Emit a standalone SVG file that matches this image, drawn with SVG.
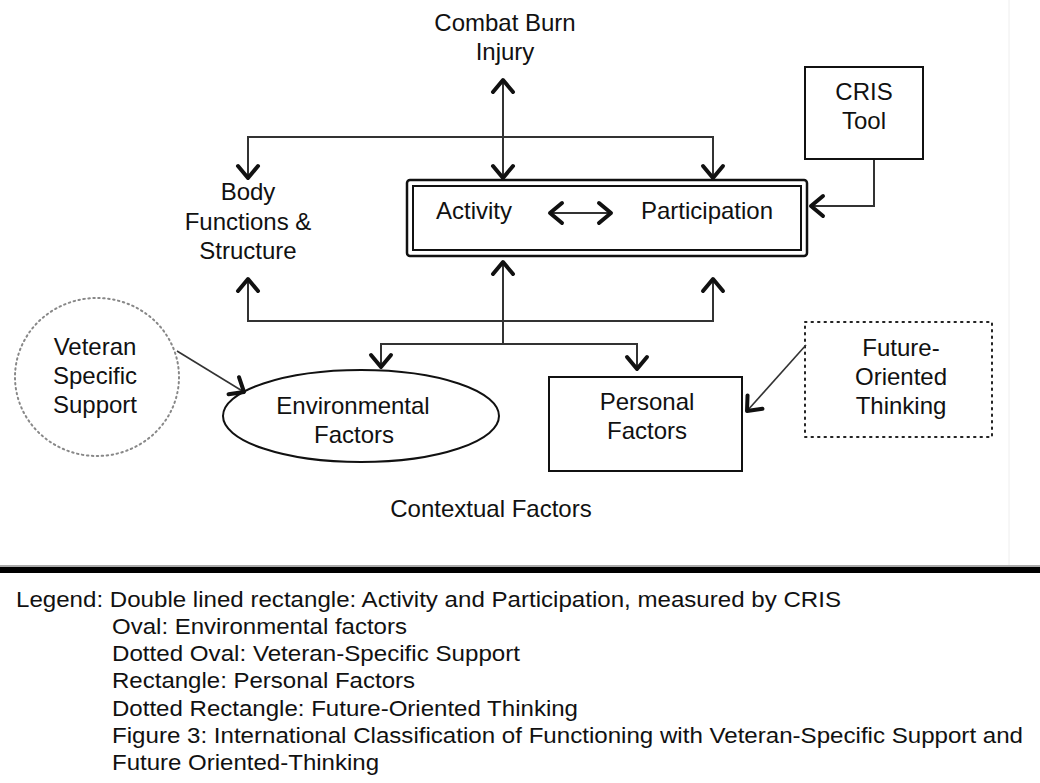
<svg xmlns="http://www.w3.org/2000/svg" width="1040" height="783" viewBox="0 0 1040 783">
<style>
.t{font-family:"Liberation Sans",Arial,sans-serif;font-size:24px;fill:#111;text-anchor:middle}
.lg{font-family:"Liberation Sans",Arial,sans-serif;font-size:22px;fill:#111}
.ln{fill:none;stroke:#333;stroke-width:2}
.thin{fill:none;stroke:#333;stroke-width:1.6}
.box{fill:#fff;stroke:#111;stroke-width:2}
</style>
<defs>
<marker id="ah" viewBox="-16 -14 20 28" refX="0" refY="0" markerWidth="20" markerHeight="28" markerUnits="userSpaceOnUse" orient="auto-start-reverse">
<path d="M-12,-10 L0,0 L-12,10" fill="none" stroke="#111" stroke-width="4" stroke-linejoin="round" stroke-linecap="round"/>
</marker>
</defs>
<rect width="1040" height="783" fill="#fff"/>
<line x1="1009" y1="0" x2="1009" y2="566" stroke="#eeeeee" stroke-width="1"/>

<g id="combat-burn-injury">
<text class="t" x="505" y="31">Combat Burn</text>
<text class="t" x="505" y="60">Injury</text>
</g>

<g id="cris-tool">
<rect class="box" x="805" y="67" width="118" height="92"/>
<text class="t" x="864" y="100">CRIS</text>
<text class="t" x="864" y="129">Tool</text>
</g>

<g id="body-functions">
<text class="t" x="248" y="200">Body</text>
<text class="t" x="248" y="230">Functions &amp;</text>
<text class="t" x="248" y="259">Structure</text>
</g>

<g id="activity-participation">
<rect x="407" y="180" width="400" height="76" rx="3" fill="#fff" stroke="#111" stroke-width="2.5"/>
<rect x="413" y="186" width="388" height="64" fill="none" stroke="#111" stroke-width="2"/>
<text class="t" x="474" y="219">Activity</text>
<text class="t" x="707" y="219">Participation</text>
<line class="ln" x1="550" y1="213" x2="611" y2="213" marker-start="url(#ah)" marker-end="url(#ah)"/>
</g>

<g id="veteran-specific-support">
<ellipse cx="97" cy="377" rx="82" ry="79" fill="#fff" stroke="#888" stroke-width="2" stroke-dasharray="1.5 3.5" stroke-linecap="round"/>
<text class="t" x="95" y="355">Veteran</text>
<text class="t" x="95" y="384">Specific</text>
<text class="t" x="95" y="413">Support</text>
</g>

<g id="environmental-factors">
<ellipse cx="361" cy="416" rx="138" ry="46" fill="#fff" stroke="#111" stroke-width="2"/>
<text class="t" x="353" y="414">Environmental</text>
<text class="t" x="354" y="443">Factors</text>
</g>

<g id="personal-factors">
<rect class="box" x="549" y="377" width="193" height="94"/>
<text class="t" x="647" y="410">Personal</text>
<text class="t" x="647" y="439">Factors</text>
</g>

<g id="future-oriented-thinking">
<rect x="805" y="322" width="187" height="115" fill="#fff" stroke="#222" stroke-width="2" stroke-dasharray="1.5 5" stroke-linecap="round"/>
<text class="t" x="901" y="356">Future-</text>
<text class="t" x="901" y="385">Oriented</text>
<text class="t" x="901" y="414">Thinking</text>
</g>

<g id="contextual-factors">
<text class="t" x="491" y="517">Contextual Factors</text>
</g>

<g id="connectors">
<line class="ln" x1="503" y1="80" x2="503" y2="178" marker-start="url(#ah)" marker-end="url(#ah)"/>
<polyline class="ln" points="248,178 248,137 713,137 713,178" marker-start="url(#ah)" marker-end="url(#ah)"/>
<polyline class="ln" points="248,279 248,321 713,321 713,279" marker-start="url(#ah)" marker-end="url(#ah)"/>
<line class="ln" x1="503" y1="344" x2="503" y2="262" marker-end="url(#ah)"/>
<polyline class="ln" points="381,367 381,344 637,344 637,369" marker-start="url(#ah)" marker-end="url(#ah)"/>
<polyline class="ln" points="874,160 874,206 811,206" marker-end="url(#ah)"/>
<line class="thin" x1="177" y1="351" x2="244" y2="392" marker-end="url(#ah)"/>
<line class="thin" x1="806" y1="345" x2="747" y2="411" marker-end="url(#ah)"/>
</g>

<rect x="0" y="565" width="1040" height="2" fill="#aaa"/>
<rect x="0" y="567" width="1040" height="6" fill="#000"/>

<g id="legend">
<text class="lg" x="16" y="607" textLength="825" lengthAdjust="spacingAndGlyphs">Legend: Double lined rectangle: Activity and Participation, measured by CRIS</text>
<text class="lg" x="112" y="634" textLength="295" lengthAdjust="spacingAndGlyphs">Oval: Environmental factors</text>
<text class="lg" x="112" y="661" textLength="408" lengthAdjust="spacingAndGlyphs">Dotted Oval: Veteran-Specific Support</text>
<text class="lg" x="112" y="688" textLength="303" lengthAdjust="spacingAndGlyphs">Rectangle: Personal Factors</text>
<text class="lg" x="112" y="716" textLength="466" lengthAdjust="spacingAndGlyphs">Dotted Rectangle: Future-Oriented Thinking</text>
<text class="lg" x="112" y="743" textLength="911" lengthAdjust="spacingAndGlyphs">Figure 3: International Classification of Functioning with Veteran-Specific Support and</text>
<text class="lg" x="112" y="770" textLength="267" lengthAdjust="spacingAndGlyphs">Future Oriented-Thinking</text>
</g>
</svg>
